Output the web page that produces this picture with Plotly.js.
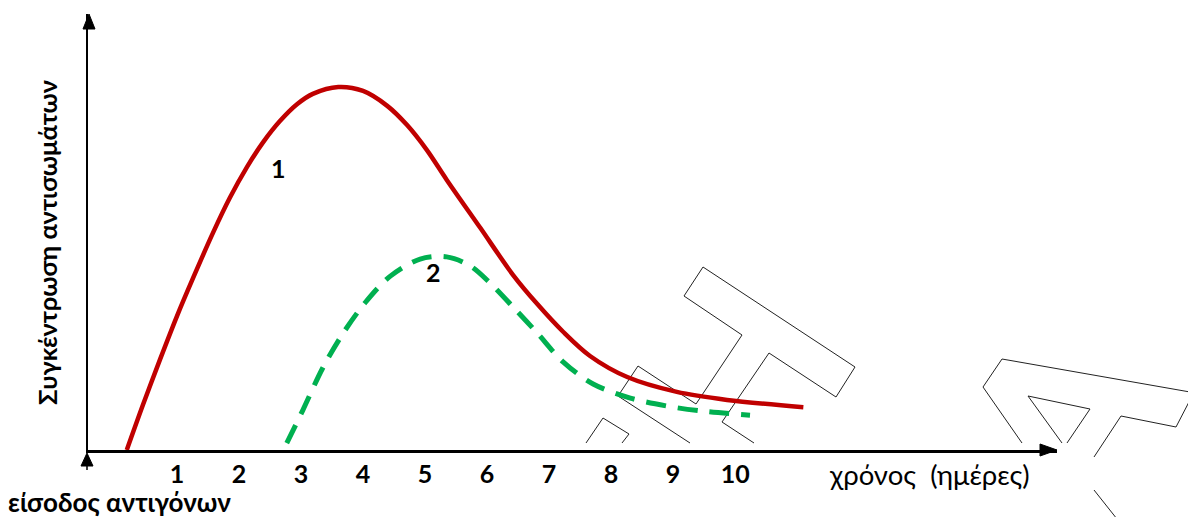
<!DOCTYPE html>
<html>
<head>
<meta charset="utf-8">
<script src="https://cdn.plot.ly/plotly-3.0.1.min.js"></script>
<style>
  html, body { margin: 0; padding: 0; background: #ffffff; }
  #chart { width: 1188px; height: 517px; }
</style>
</head>
<body>
<div id="chart"></div>
<script>
// ---- data ----
// time in days, concentration in arbitrary units (peak of curve 1 = 100)
const curve1Days = [0.19, 0.45, 0.73, 1.00, 1.26, 1.58, 1.85, 2.13, 2.39, 2.66, 2.94, 3.19, 3.60, 4.00, 4.39, 4.71, 5.03, 5.35, 5.89, 6.42, 6.81, 7.23, 7.66, 8.26, 9.06, 9.87, 11.10];
const curve1Conc = [0, 12.4, 25.1, 36.9, 47.4, 59.8, 69.4, 78.0, 84.8, 90.6, 95.3, 98.1, 100.0, 98.9, 94.8, 89.5, 82.6, 74.4, 61.2, 48.2, 40.2, 32.5, 25.9, 20.1, 16.0, 13.8, 11.8];

const curve2Days = [2.77, 3.03, 3.35, 3.68, 4.03, 4.44, 4.92, 5.35, 5.73, 6.05, 6.42, 6.81, 7.23, 7.71, 8.31, 8.90, 9.48, 10.24];
const curve2Conc = [1.9, 11.0, 22.6, 32.2, 40.5, 47.9, 52.6, 53.2, 50.7, 46.0, 39.4, 32.2, 24.2, 18.2, 14.3, 12.1, 10.7, 9.6];

const tickDays = [1, 2, 3, 4, 5, 6, 7, 8, 9, 10];
const tickLabels = ['1', '2', '3', '4', '5', '6', '7', '8', '9', '10'];

const curveNames = ['1', '2'];
const curveLabelDays = [2.63, 5.13];
const curveLabelConc = [77.7, 49.0];

const yTitle = 'Συγκέντρωση αντισωμάτων';
const xTitle = 'χρόνος  (ημέρες)';
const originLabel = 'είσοδος αντιγόνων';

// ---- decoration (faint antibody outlines in the background), page pixels ----
const ML = 88, MT = 14, MB = 67, MR = 131, W = 1188, H = 517;
const PW = W - ML - MR, PH = H - MB - MT;
const originPx = [ML, H - MB];
const outlines = [
  [[586,443],[603,418],[629,434],[622,443]],
  [[690,443],[618,396],[638,366],[696,404],[742,335],[684,296],[703,267],[855,367],[836,397],[769,353],[722,422],[754,443]],
  [[1022,443],[983,387],[1002,359],[1190,392]],
  [[1190,400],[1176,427],[1121,416],[1094,457]],
  [[1062,443],[1028,396],[1090,409],[1067,443]],
  [[1094,490],[1117,519]]
];
function pxPath(pts) {
  return pts.map((p, i) => (i ? 'L' : 'M') + (p[0] - originPx[0]) + ',' + (originPx[1] - p[1])).join(' ');
}
const px2paperX = px => (px - ML) / PW;
const px2paperY = py => (originPx[1] - py) / PH;

const FONT = 'Lato, "Noto Sans", sans-serif';

const traces = [
  {
    x: curve1Days, y: curve1Conc, type: 'scatter', mode: 'lines', name: curveNames[0],
    line: { color: '#C00000', width: 4.5, shape: 'spline', smoothing: 0.9 },
    hoverinfo: 'skip'
  },
  {
    x: curve2Days, y: curve2Conc, type: 'scatter', mode: 'lines', name: curveNames[1],
    line: { color: '#00B050', width: 5, dash: '20px,12px', shape: 'spline', smoothing: 0.9 },
    hoverinfo: 'skip'
  }
];

const shapes = outlines.map(pts => ({
  type: 'path', layer: 'below',
  xref: 'paper', yref: 'paper', xsizemode: 'pixel', ysizemode: 'pixel',
  xanchor: 0, yanchor: 0,
  path: pxPath(pts),
  line: { color: '#222222', width: 1 }
}));
// arrow heads
shapes.push({
  type: 'path', xref: 'paper', yref: 'paper', xsizemode: 'pixel', ysizemode: 'pixel',
  xanchor: 1, yanchor: 0, path: 'M0,0 L-17,6 L-17,-6 Z',
  fillcolor: '#000', line: { color: '#000', width: 1 }
});
shapes.push({
  type: 'path', xref: 'paper', yref: 'paper', xsizemode: 'pixel', ysizemode: 'pixel',
  xanchor: 0, yanchor: 1, path: 'M1,0 L-5,-15 L7,-15 Z',
  fillcolor: '#000', line: { color: '#000', width: 1 }
});
shapes.push({
  type: 'path', xref: 'paper', yref: 'paper', xsizemode: 'pixel', ysizemode: 'pixel',
  xanchor: 0, yanchor: 0, path: 'M-1,-3 L-7,-16 L5,-16 Z',
  fillcolor: '#000', line: { color: '#000', width: 1 }
});
shapes.push({
  type: 'path', xref: 'paper', yref: 'paper', xsizemode: 'pixel', ysizemode: 'pixel',
  xanchor: 0, yanchor: 0, path: 'M-1,-15 L-1,-20',
  line: { color: '#000', width: 1.5 }
});

const annotations = [
  { text: yTitle, xref: 'paper', yref: 'paper', x: px2paperX(47), y: px2paperY(242),
    xanchor: 'center', yanchor: 'middle',
    textangle: -90, showarrow: false, font: { family: FONT, size: 25.5, color: '#000', weight: 'bold' } },
  { text: xTitle, xref: 'paper', yref: 'paper', x: px2paperX(929), y: px2paperY(474),
    xanchor: 'center', yanchor: 'middle',
    showarrow: false, font: { family: FONT, size: 27.5, color: '#000' } },
  { text: originLabel, xref: 'paper', yref: 'paper', x: px2paperX(7), y: px2paperY(501.5),
    xanchor: 'left', yanchor: 'middle', borderpad: 0,
    showarrow: false, font: { family: FONT, size: 26, color: '#000', weight: 'bold' } }
];
curveNames.forEach((n, i) => annotations.push({
  text: n, x: curveLabelDays[i], y: curveLabelConc[i], showarrow: false,
  xanchor: 'center', yanchor: 'middle',
  font: { family: FONT, size: 25, color: '#000', weight: 'bold' }
}));

const layout = {
  width: W, height: H,
  margin: { l: ML, r: MR, t: MT, b: MB, pad: 0 },
  paper_bgcolor: '#fff', plot_bgcolor: '#fff',
  showlegend: false,
  xaxis: {
    range: [-0.435, 15.19], showgrid: false, zeroline: false,
    showline: true, linecolor: '#000', linewidth: 2.5,
    tickvals: tickDays, ticktext: tickLabels, ticks: '',
    tickfont: { family: FONT, size: 25, color: '#000', weight: 'bold' },
    fixedrange: true
  },
  yaxis: {
    range: [0, 120.1], showgrid: false, zeroline: false,
    showline: true, linecolor: '#000', linewidth: 1.7,
    showticklabels: false, ticks: '', fixedrange: true
  },
  shapes: shapes,
  annotations: annotations
};

Plotly.newPlot('chart', traces, layout, { staticPlot: true, displayModeBar: false });
</script>
</body>
</html>
